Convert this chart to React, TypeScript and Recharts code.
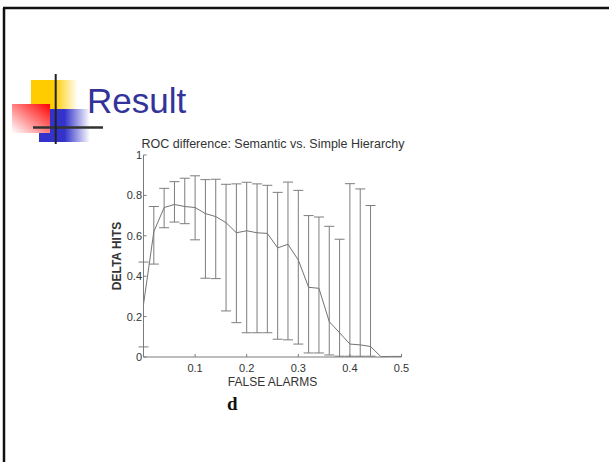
import React from "react";
import {
  ComposedChart,
  Line,
  ErrorBar,
  XAxis,
  YAxis,
  Label,
} from "recharts";

// values
const falseAlarms = [
  0, 0.02, 0.04, 0.06, 0.08, 0.1, 0.12, 0.14, 0.16, 0.18, 0.2, 0.22, 0.24,
  0.26, 0.28, 0.3, 0.32, 0.34, 0.36, 0.38, 0.4, 0.42, 0.44, 0.46, 0.48, 0.5,
];
const meanDeltaHits = [
  0.26, 0.62, 0.74, 0.755, 0.745, 0.74, 0.71, 0.695, 0.665, 0.615, 0.625,
  0.615, 0.612, 0.54, 0.558, 0.48, 0.345, 0.34, 0.175, 0.12, 0.064, 0.06,
  0.052, 0.002, 0.003, 0.003,
];
const upperDeltaHits = [
  0.47, 0.745, 0.835, 0.868, 0.885, 0.897, 0.878, 0.88, 0.855, 0.857, 0.865,
  0.857, 0.85, 0.815, 0.866, 0.825, 0.7, 0.693, 0.647, 0.583, 0.858, 0.832,
  0.75, null, null, null,
];
const lowerDeltaHits = [
  0.05, 0.46, 0.64, 0.668, 0.66, 0.58, 0.39, 0.388, 0.228, 0.17, 0.12, 0.12,
  0.12, 0.088, 0.085, 0.064, 0.02, 0.02, 0.01, 0.004, 0.004, 0.004, 0.004,
  null, null, null,
];
const xTicks = [0.1, 0.2, 0.3, 0.4, 0.5];
const yTicks = [0, 0.2, 0.4, 0.6, 0.8, 1];

const data = falseAlarms.map((fa, i) => {
  const m = meanDeltaHits[i];
  const hi = upperDeltaHits[i];
  const lo = lowerDeltaHits[i];
  return {
    fa,
    hits: m,
    err: hi == null || lo == null ? undefined : [m - lo, hi - m],
  };
});

const sans = "'Liberation Sans', Arial, sans-serif";
const axisGray = "#7a7a7a";

// slide decoration: frame, bullet icon, title, underline
const SlideBackground = () => (
  <svg
    width={609}
    height={462}
    style={{ position: "absolute", left: 0, top: 0 }}
  >
    <defs>
      <linearGradient id="yellowFade" x1="0" y1="0" x2="1" y2="0">
        <stop offset="0" stopColor="#ffcc00" />
        <stop offset="0.5" stopColor="#ffcc00" />
        <stop offset="1" stopColor="#ffffff" />
      </linearGradient>
      <linearGradient id="blueFade" x1="0" y1="0" x2="1" y2="0">
        <stop offset="0" stopColor="#3333cc" />
        <stop offset="0.5" stopColor="#3333cc" />
        <stop offset="1" stopColor="#ffffff" />
      </linearGradient>
      <linearGradient id="redFade" x1="0" y1="1" x2="1" y2="0">
        <stop offset="0" stopColor="#ffffff" />
        <stop offset="1" stopColor="#ff0000" />
      </linearGradient>
      <linearGradient id="lineFade" x1="0" y1="0" x2="1" y2="0">
        <stop offset="0" stopColor="#555555" />
        <stop offset="1" stopColor="#ffffff" />
      </linearGradient>
    </defs>
    <line x1={3} y1={8} x2={609} y2={8} stroke="#111" strokeWidth={2.5} />
    <line x1={4} y1={8} x2={4} y2={462} stroke="#111" strokeWidth={2.5} />

    <rect x={31} y={80} width={47} height={29} fill="url(#yellowFade)" />
    <rect x={39} y={109} width={51} height={33} fill="url(#blueFade)" />
    <rect x={12} y={104} width={38} height={29} fill="url(#redFade)" />
    <line x1={103} y1={128} x2={605} y2={128} stroke="url(#lineFade)" strokeWidth={1.8} />
    <line x1={33} y1={127.5} x2={103} y2={127.5} stroke="#333" strokeWidth={2.5} />
    <line x1={55.7} y1={74} x2={55.7} y2={144} stroke="#222" strokeWidth={2} />

    <text x={87} y={113} fontFamily={sans} fontSize={35} fill="#333399">
      Result
    </text>
    <text
      x={273}
      y={148}
      textAnchor="middle"
      fontFamily={sans}
      fontSize={12.5}
      fill="#333"
    >
      ROC difference: Semantic vs. Simple Hierarchy
    </text>
    <text
      x={227}
      y={410}
      fontFamily="'Liberation Serif', 'Times New Roman', serif"
      fontWeight="bold"
      fontSize={19}
      fill="#111"
    >
      d
    </text>
  </svg>
);

export default function App() {
  return (
    <div
      style={{
        position: "absolute",
        left: 0,
        top: 0,
        width: 609,
        height: 462,
        background: "#fff",
        overflow: "hidden",
      }}
    >
      <SlideBackground />
      <div style={{ position: "absolute", left: 100, top: 130 }}>
        <ComposedChart
          width={320}
          height={270}
          data={data}
          margin={{ top: 25, right: 18.5, bottom: 13, left: 3.5 }}
        >
          <XAxis
            dataKey="fa"
            type="number"
            domain={[0, 0.5]}
            ticks={xTicks}
            tickFormatter={(v) => String(v)}
            stroke={axisGray}
            tickSize={-3}
            tickMargin={10}
            height={30}
            tick={{ fill: "#333", fontSize: 11, fontFamily: sans }}
          >
            <Label
              value="FALSE ALARMS"
              position="insideBottom"
              offset={1.5}
              style={{ fill: "#333", fontSize: 12, fontFamily: sans }}
            />
          </XAxis>
          <YAxis
            type="number"
            domain={[0, 1]}
            ticks={yTicks}
            tickFormatter={(v) => String(v)}
            stroke={axisGray}
            tickSize={-3}
            tickMargin={4.5}
            width={40}
            tick={{ fill: "#333", fontSize: 11, fontFamily: sans }}
          >
            <Label
              value="DELTA HITS"
              angle={-90}
              position="insideLeft"
              offset={13}
              style={{
                fill: "#333",
                fontSize: 12,
                fontWeight: "bold",
                fontFamily: sans,
                textAnchor: "middle",
              }}
            />
          </YAxis>
          <Line
            dataKey="hits"
            type="linear"
            stroke="#737373"
            strokeWidth={1}
            dot={false}
            isAnimationActive={false}
          >
            <ErrorBar
              dataKey="err"
              width={5}
              stroke="#7d7d7d"
              strokeWidth={1}
              direction="y"
              isAnimationActive={false}
            />
          </Line>
        </ComposedChart>
      </div>
    </div>
  );
}
